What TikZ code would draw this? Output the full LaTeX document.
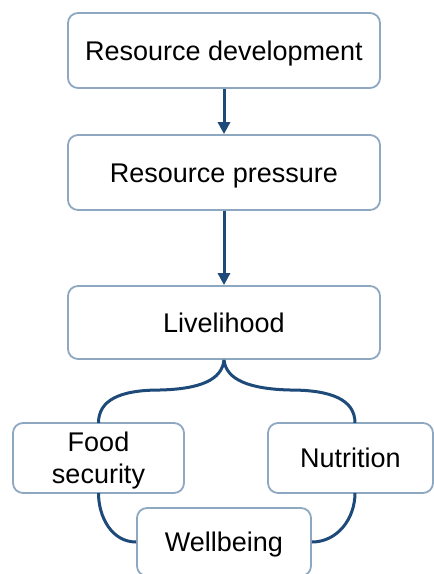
\documentclass[tikz,border=0pt]{standalone}
\usepackage{fontspec}
\setmainfont{Liberation Sans}
\usetikzlibrary{arrows.meta}
\definecolor{boxline}{HTML}{8FA8C2}
\definecolor{conn}{HTML}{1D4A78}
\begin{document}
\begin{tikzpicture}[x=1pt,y=-1pt,
  boxtext/.style={inner sep=0pt, align=center, font=\fontsize{27}{32}\selectfont},
  box/.style={boxtext, draw=boxline, line width=1.8pt, rounded corners=10pt, fill=white,
    text height=19.4pt, text depth=0pt},
  link/.style={draw=conn, line width=3pt},
  arr/.style={link, -{Triangle[length=12pt,width=12pt]}}]
\useasboundingbox (0,0) rectangle (434,574);
\node[box, minimum width=312pt, minimum height=75pt] (dev) at (224,50.5) {Resource development};
\node[box, minimum width=312pt, minimum height=75pt] (pres) at (224,172.5) {Resource pressure};
\node[box, minimum width=312pt, minimum height=73pt] (live) at (224,322.5) {Livelihood};
\node[box, minimum width=171pt, minimum height=70pt] (food) at (98.5,458) {};
\node[boxtext] (foodtext) at ([yshift=-2.7pt]food.center) {Food\\security};
\node[box, minimum width=165pt, minimum height=70pt] (nutr) at (350.5,458) {Nutrition};
\draw[arr] (dev.south) -- (pres.north);
\draw[arr] (pres.south) -- (live.north);
\coordinate (bl) at (160,390);
\coordinate (br) at (290,390);
\coordinate (ft) at (98.5,423);
\coordinate (nt) at (355,423);
\coordinate (fb) at (98.5,493);
\coordinate (nb) at (355,493);
\draw[link] (live.south) .. controls (222,380) and (200,389) .. (bl)
  .. controls (120,390) and (98.5,400) .. (ft);
\draw[link] (live.south) .. controls (226,380) and (250,389) .. (br)
  .. controls (332,390) and (355,400) .. (nt);
\node[box, minimum width=174pt, minimum height=68pt] (well) at (224,542) {Wellbeing};
\draw[link] (fb) to[out=-90,in=180] (well.west);
\draw[link] (nb) to[out=-90,in=0] (well.east);
\end{tikzpicture}
\end{document}
